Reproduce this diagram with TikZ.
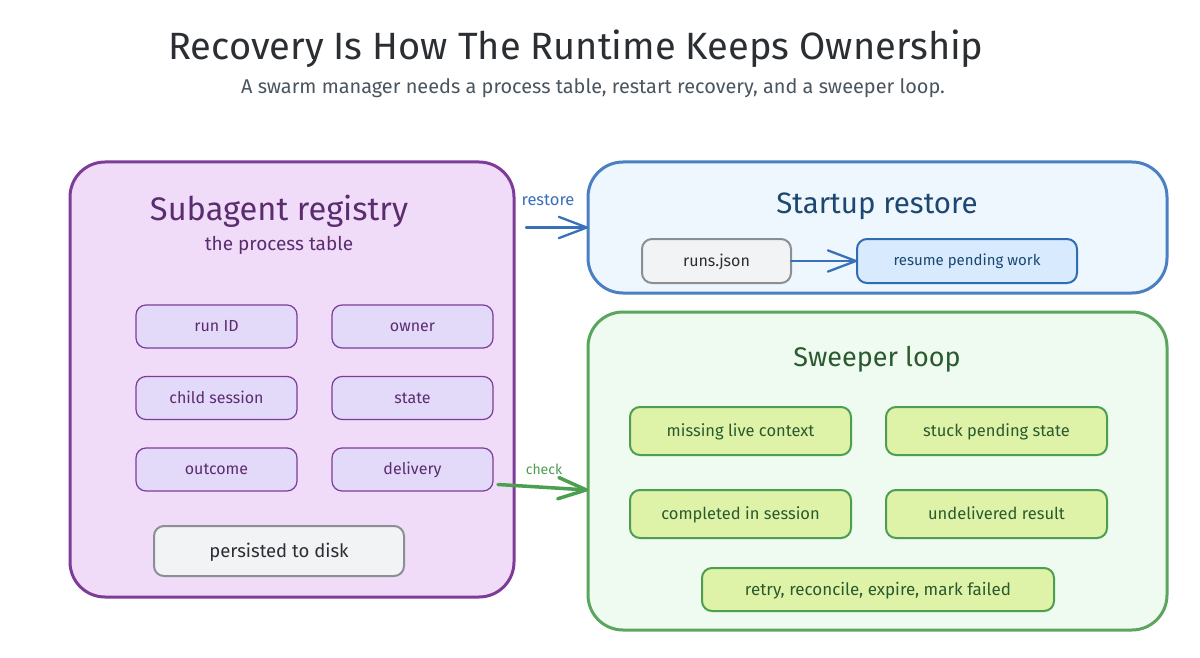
\documentclass[tikz,border=0pt]{standalone}
\usepackage{fontspec}
\setmainfont{Fira Sans}
\usetikzlibrary{arrows.meta}
\definecolor{pstroke}{HTML}{7D3C98}
\definecolor{pfill}{HTML}{F0DCF8}
\definecolor{pinner}{HTML}{E3DAFA}
\definecolor{ptext}{HTML}{5B2C6F}
\definecolor{bstroke}{HTML}{4A7FC1}
\definecolor{bfill}{HTML}{EFF7FE}
\definecolor{btext}{HTML}{1C4770}
\definecolor{barrow}{HTML}{3A70BA}
\definecolor{binner}{HTML}{D8EAFD}
\definecolor{binnerl}{HTML}{2F6DB0}
\definecolor{gstroke}{HTML}{5BA65F}
\definecolor{gfill}{HTML}{EFFAF1}
\definecolor{ginner}{HTML}{DFF3A8}
\definecolor{gtext}{HTML}{2A5A2E}
\definecolor{garrow}{HTML}{4C9E50}
\definecolor{ginnerl}{HTML}{4C9E50}
\definecolor{ntext}{HTML}{2B2F33}
\definecolor{sub}{HTML}{4A5560}
\definecolor{gfillb}{HTML}{F2F3F5}
\definecolor{gline}{HTML}{8A8F94}
\pgfdeclarearrow{
  name=Chev,
  parameters={\the\pgfarrowlength},
  setup code={
    \pgfarrowssettipend{0.5\pgflinewidth}
    \pgfarrowssetlineend{-0.5\pgflinewidth}
    \pgfarrowssetvisualbackend{-\pgfarrowlength}
    \pgfarrowssetbackend{-\pgfarrowlength}
    \pgfarrowssavethe\pgfarrowlength
  },
  drawing code={
    \pgfsetdash{}{0pt}
    \pgfsetroundcap
    \pgfsetroundjoin
    \pgfpathmoveto{\pgfqpoint{-\pgfarrowlength}{0.38\pgfarrowlength}}
    \pgfpathlineto{\pgfqpoint{0pt}{0pt}}
    \pgfpathlineto{\pgfqpoint{-\pgfarrowlength}{-0.38\pgfarrowlength}}
    \pgfusepathqstroke
  },
  defaults={length=28pt}
}
\tikzset{
  x=1pt,y=-1pt,
  evenline/.style={execute at begin node={\rule[-0.25em]{0pt}{1.15em}}},
  panel/.style={draw,line width=3pt,rounded corners=35pt,anchor=north west,inner sep=0pt,outer sep=0pt},
  chip/.style={draw,rounded corners=10pt,anchor=center,inner sep=0pt,outer sep=0pt,evenline},
  pchip/.style={chip,font=\fontsize{16}{19}\selectfont,draw=pstroke,fill=pinner,text=ptext,line width=1.2pt,minimum width=161pt,minimum height=43pt},
  gchip/.style={chip,font=\fontsize{16.5}{20}\selectfont,draw=ginnerl,fill=ginner,text=gtext,line width=2pt,minimum height=48pt,minimum width=221pt},
  greychip/.style={chip,draw=gline,fill=gfillb,text=ntext,line width=2pt},
  heading/.style={inner sep=0pt,anchor=center,evenline},
  arrowlabel/.style={inner sep=0pt,anchor=center,evenline},
  link/.style={-{Chev[length=28pt]},line cap=round}
}
\begin{document}
\begin{tikzpicture}
\useasboundingbox (0,0) rectangle (1200,658);
\fill[white] (0,0) rectangle (1200,658);
\node[heading,text=ntext,font=\fontsize{38}{44}\selectfont] (title) at (576,47) {Recovery Is How The Runtime Keeps Ownership};
\node[heading,text=sub,font=\fontsize{19.9}{24}\selectfont] (subtitle) at (593,87) {A swarm manager needs a process table, restart recovery, and a sweeper loop.};

\node[panel,draw=pstroke,fill=pfill,minimum width=444pt,minimum height=435pt] (registry) at (70,162) {};
\node[panel,draw=bstroke,fill=bfill,minimum width=579pt,minimum height=131pt] (restorebox) at (588,162) {};
\node[panel,draw=gstroke,fill=gfill,minimum width=579pt,minimum height=318pt] (sweeper) at (588,312) {};

\node[heading,text=ptext,font=\fontsize{32.6}{38}\selectfont] (regt) at (279,210) {Subagent registry};
\node[heading,text=ptext,font=\fontsize{19}{23}\selectfont] (regs) at (279,244) {the process table};
\node[pchip] (runid) at (216.5,326.5) {run ID};
\node[pchip] (owner) at (412.5,326.5) {owner};
\node[pchip] (child) at (216.5,398) {child session};
\node[pchip] (state) at (412.5,398) {state};
\node[pchip] (outcome) at (216.5,469.5) {outcome};
\node[pchip] (delivery) at (412.5,469.5) {delivery};
\node[greychip,minimum width=250pt,minimum height=50pt,font=\fontsize{18.5}{22}\selectfont] (disk) at (279,551) {persisted to disk};

\node[heading,text=btext,font=\fontsize{29.5}{35}\selectfont] (startt) at (877,204) {Startup restore};
\node[greychip,font=\fontsize{16}{19}\selectfont,minimum width=149pt,minimum height=44pt] (runs) at (716.5,261) {runs.json};
\node[chip,font=\fontsize{15}{18}\selectfont,draw=binnerl,fill=binner,text=btext,line width=2pt,minimum width=220pt,minimum height=44pt] (resume) at (967,261) {resume pending work};

\node[heading,text=gtext,font=\fontsize{27}{32}\selectfont] (sweept) at (877,358) {Sweeper loop};
\node[gchip] (missing) at (740.5,431) {missing live context};
\node[gchip] (stuck) at (996.5,431) {stuck pending state};
\node[gchip] (completed) at (740.5,514) {completed in session};
\node[gchip] (undelivered) at (996.5,514) {undelivered result};
\node[gchip,font=\fontsize{17}{20}\selectfont,minimum width=352pt,minimum height=43pt] (retry) at (878,589.5) {retry, reconcile, expire, mark failed};

\node[arrowlabel,text=barrow,font=\fontsize{16.5}{20}\selectfont] (lrestore) at (548,200) {restore};
\node[arrowlabel,text=garrow,font=\fontsize{14}{17}\selectfont] (lcheck) at (544,470) {check};

\draw[link,draw=barrow,line width=2.3pt] ([xshift=12pt]registry.east |- restorebox.west) -- (restorebox.west);
\draw[link,draw=garrow,line width=3.5pt] ([xshift=5pt,yshift=-15pt]delivery.east) -- ([yshift=-19pt]sweeper.west);
\draw[link,draw=barrow,line width=2.3pt] (runs) -- (resume);
\end{tikzpicture}
\end{document}
